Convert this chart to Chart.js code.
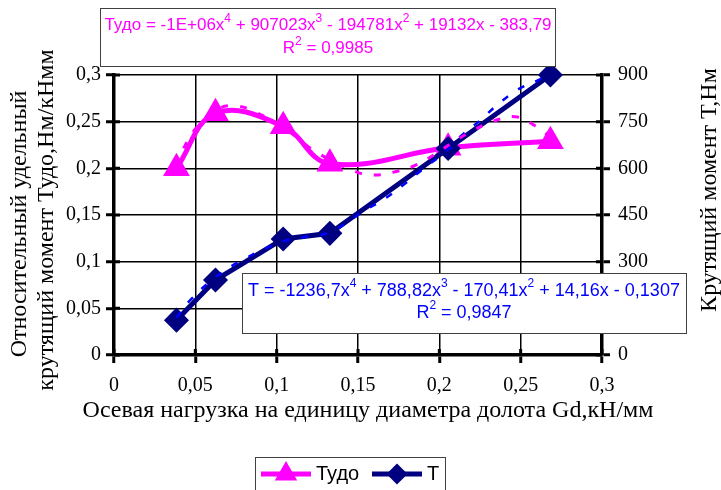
<!DOCTYPE html>
<html>
<head>
<meta charset="utf-8">
<script src="https://cdn.jsdelivr.net/npm/chart.js@4.4.1/dist/chart.umd.min.js"></script>
<style>
  html, body { margin: 0; padding: 0; background: #fff; }
</style>
</head>
<body>
<canvas id="chart" width="721" height="490"></canvas>
<script>
// осевая нагрузка Gd, кН/мм
const gd = [0.0384, 0.0624, 0.104, 0.1327, 0.2054, 0.2683];
// относительный удельный момент Тудо
const tudo = [0.200, 0.259, 0.245, 0.205, 0.222, 0.229];
// крутящий момент T, Нм
const torque = [112, 241, 373, 391, 664, 900];

// линии тренда
const tudoTrendX = [0.0384, 0.0446, 0.0521, 0.0624, 0.0736, 0.0866, 0.1105, 0.1239, 0.1485, 0.1601, 0.173, 0.1843, 0.1966, 0.2089, 0.2212, 0.2335, 0.2468, 0.2591, 0.2683];
const tudoTrendY = [0.2025, 0.2275, 0.2464, 0.2625, 0.2671, 0.2607, 0.2357, 0.2178, 0.1964, 0.1929, 0.1964, 0.2025, 0.2143, 0.2285, 0.2411, 0.2507, 0.2553, 0.2454, 0.2336];
const torqueTrendX = [0.0384, 0.047, 0.0624, 0.0798, 0.104, 0.1177, 0.1331, 0.1546, 0.1669, 0.1792, 0.1905, 0.2054, 0.214, 0.2253, 0.2356, 0.2479, 0.2602, 0.2683];
const torqueTrendY = [120, 177, 250, 308, 365, 380, 396, 466, 504, 552, 600, 660, 707, 755, 804, 852, 882, 905];

const xTicks = [0, 0.05, 0.1, 0.15, 0.2, 0.25, 0.3];
const tudoTicks = [0, 0.05, 0.1, 0.15, 0.2, 0.25, 0.3];
const torqueTicks = [0, 150, 300, 450, 600, 750, 900];

const serif = '"Liberation Serif", "Times New Roman", serif';
const sans = '"Liberation Sans", Arial, sans-serif';
const MAGENTA = '#FF00FF';
const NAVY = '#000080';
const BLUE = '#0000FF';

const pts = (xs, ys) => xs.map((x, i) => ({ x: x, y: ys[i] }));
const comma = v => String(Math.round(v * 100) / 100).replace('.', ',');

// текст с верхними индексами
function richText(ctx, parts, cx, cy, size, color) {
  const big = size + 'px ' + sans, small = Math.round(size * 0.68) + 'px ' + sans;
  let w = 0;
  parts.forEach(p => {
    ctx.font = typeof p === 'string' ? big : small;
    w += ctx.measureText(typeof p === 'string' ? p : p.sup).width;
  });
  let x = cx - w / 2;
  ctx.fillStyle = color;
  ctx.textBaseline = 'middle';
  ctx.textAlign = 'left';
  parts.forEach(p => {
    if (typeof p === 'string') {
      ctx.font = big;
      ctx.fillText(p, x, cy);
      x += ctx.measureText(p).width;
    } else {
      ctx.font = small;
      ctx.fillText(p.sup, x, cy - size * 0.38);
      x += ctx.measureText(p.sup).width;
    }
  });
}

function box(ctx, x1, y1, x2, y2) {
  ctx.fillStyle = '#fff';
  ctx.fillRect(x1, y1, x2 - x1, y2 - y1);
  ctx.strokeStyle = '#404040';
  ctx.lineWidth = 1;
  ctx.strokeRect(x1 + 0.5, y1 + 0.5, x2 - x1, y2 - y1);
}

function vText(ctx, text, x, y) {
  ctx.save();
  ctx.translate(x, y);
  ctx.rotate(-Math.PI / 2);
  ctx.fillText(text, 0, 0);
  ctx.restore();
}

const extras = {
  id: 'extras',
  afterDraw(chart) {
    const ctx = chart.ctx;
    const a = chart.chartArea;
    const sx = chart.scales.x, sy = chart.scales.y, sy1 = chart.scales.y1;
    ctx.save();

    // внутренние половинки засечек
    ctx.strokeStyle = '#000';
    ctx.lineWidth = 3;
    ctx.beginPath();
    tudoTicks.forEach(v => { const y = sy.getPixelForValue(v); ctx.moveTo(a.left, y); ctx.lineTo(a.left + 6, y); });
    torqueTicks.forEach(v => { const y = sy1.getPixelForValue(v); ctx.moveTo(a.right - 6, y); ctx.lineTo(a.right, y); });
    xTicks.forEach(v => { const x = sx.getPixelForValue(v); ctx.moveTo(x, a.bottom - 6); ctx.lineTo(x, a.bottom); });
    ctx.stroke();

    // подписи осей
    ctx.fillStyle = '#000';
    ctx.font = '24px ' + serif;
    ctx.textAlign = 'center';
    ctx.textBaseline = 'middle';
    ctx.fillText('Осевая нагрузка на единицу диаметра долота Gd,кН/мм', 368, 411);
    vText(ctx, 'Относительный удельный', 20, 224);
    vText(ctx, 'крутящий момент Тудо,Нм/кНмм', 47, 220);
    vText(ctx, 'Крутящий момент Т,Нм', 710, 190);

    // уравнения трендов
    box(ctx, 100, 8, 555, 66);
    richText(ctx, ['Тудо = -1E+06x', { sup: '4' }, ' + 907023x', { sup: '3' }, ' - 194781x', { sup: '2' }, ' + 19132x - 383,79'], 328, 25, 17, MAGENTA);
    richText(ctx, ['R', { sup: '2' }, ' = 0,9985'], 328, 48, 17, MAGENTA);

    box(ctx, 242, 273, 686, 333);
    richText(ctx, ['T = -1236,7x', { sup: '4' }, ' + 788,82x', { sup: '3' }, ' - 170,41x', { sup: '2' }, ' + 14,16x - 0,1307'], 464, 291, 18, BLUE);
    richText(ctx, ['R', { sup: '2' }, ' = 0,9847'], 464, 313, 18, BLUE);

    // легенда
    box(ctx, 255, 457, 445, 495);
    const ly = 474;
    const items = [
      { x: 261, label: 'Тудо', color: MAGENTA, style: 'triangle', r: 8 },
      { x: 372, label: 'Т', color: NAVY, style: 'rectRot', r: 7 }
    ];
    items.forEach(it => {
      ctx.strokeStyle = it.color;
      ctx.lineWidth = 5;
      ctx.beginPath();
      ctx.moveTo(it.x, ly);
      ctx.lineTo(it.x + 50, ly);
      ctx.stroke();
      ctx.fillStyle = it.color;
      Chart.helpers.drawPoint(ctx, { pointStyle: it.style, radius: it.r, borderWidth: 1 }, it.x + 25, ly);
      ctx.fill();
      ctx.fillStyle = '#000';
      ctx.font = '20px ' + sans;
      ctx.textAlign = 'left';
      ctx.textBaseline = 'middle';
      ctx.fillText(it.label, it.x + 55, ly);
    });

    ctx.restore();
  }
};

const axisStyle = {
  grid: { color: '#000', lineWidth: 1.5, tickLength: 8, tickWidth: 3, tickColor: '#000' },
  border: { color: '#000', width: 3.5 },
  ticks: { color: '#000', font: { family: serif, size: 20 } }
};

new Chart(document.getElementById('chart'), {
  type: 'line',
  data: {
    datasets: [
      {
        label: 'Тудо тренд',
        data: pts(tudoTrendX, tudoTrendY),
        borderColor: MAGENTA,
        borderWidth: 3,
        borderDash: [7, 12],
        pointRadius: 0,
        tension: 0.4,
        yAxisID: 'y',
        order: 0
      },
      {
        label: 'T тренд',
        data: pts(torqueTrendX, torqueTrendY),
        borderColor: BLUE,
        borderWidth: 2.5,
        borderDash: [7, 12],
        pointRadius: 0,
        tension: 0.4,
        yAxisID: 'y1',
        order: 0
      },
      {
        label: 'Тудо',
        data: pts(gd, tudo),
        borderColor: MAGENTA,
        backgroundColor: MAGENTA,
        borderWidth: 5,
        pointStyle: 'triangle',
        pointRadius: 10.5,
        tension: 0.4,
        clip: false,
        yAxisID: 'y',
        order: 2
      },
      {
        label: 'Т',
        data: pts(gd, torque),
        borderColor: NAVY,
        backgroundColor: NAVY,
        borderWidth: 5,
        pointStyle: 'rectRot',
        pointRadius: 9,
        tension: 0,
        clip: false,
        yAxisID: 'y1',
        order: 1
      }
    ]
  },
  options: {
    responsive: false,
    animation: false,
    layout: { padding: { top: 75, left: 0, right: 0, bottom: 0 } },
    plugins: { legend: { display: false }, tooltip: { enabled: false } },
    scales: {
      x: {
        type: 'linear', position: 'bottom', min: 0, max: 0.3,
        grid: axisStyle.grid, border: axisStyle.border,
        ticks: Object.assign({}, axisStyle.ticks, { padding: 11, callback: comma, maxRotation: 0 }),
        afterBuildTicks: s => { s.ticks = xTicks.map(v => ({ value: v })); },
        afterFit: s => { s.height = 135; }
      },
      y: {
        position: 'left', min: 0, max: 0.3,
        grid: axisStyle.grid, border: axisStyle.border,
        ticks: Object.assign({}, axisStyle.ticks, { padding: 5, callback: comma }),
        afterBuildTicks: s => { s.ticks = tudoTicks.map(v => ({ value: v })); },
        afterFit: s => { s.width = 114; }
      },
      y1: {
        position: 'right', min: 0, max: 900,
        grid: Object.assign({}, axisStyle.grid, { drawOnChartArea: false }), border: axisStyle.border,
        ticks: Object.assign({}, axisStyle.ticks, { padding: 8 }),
        afterBuildTicks: s => { s.ticks = torqueTicks.map(v => ({ value: v })); },
        afterFit: s => { s.width = 119; }
      }
    }
  },
  plugins: [extras]
});
</script>
</body>
</html>
